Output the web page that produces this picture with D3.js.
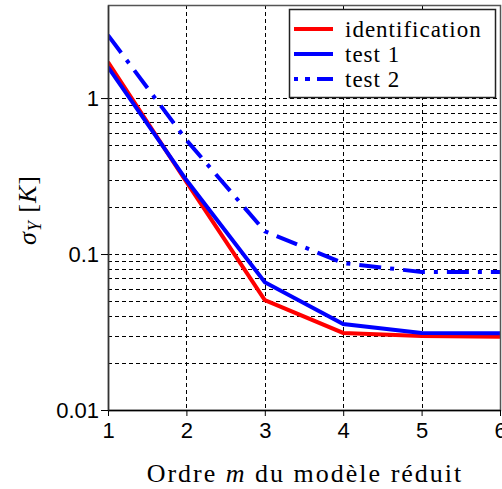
<!DOCTYPE html>
<html>
<head>
<meta charset="utf-8">
<script src="https://cdn.jsdelivr.net/npm/d3@7"></script>
<style>
  body { margin: 0; background: #fff; }
  text { fill: #000; }
  .serif { font-family: "Liberation Serif", "Times New Roman", serif; }
  .sans { font-family: "Liberation Sans", Arial, sans-serif; }
</style>
</head>
<body>
<svg id="vis"></svg>
<script>
const svg = d3.select("#vis").attr("width", 502).attr("height", 489);

const orders = [1, 2, 3, 4, 5, 6];
const identification = [1.70, 0.29, 0.0507, 0.0312, 0.0298, 0.0295];
const test1 = [1.58, 0.298, 0.066, 0.0356, 0.0312, 0.031];
const test2 = [2.53, 0.538, 0.14, 0.0875, 0.0767, 0.0767];
const yTicks = [0.01, 0.1, 1];
const yTickLabels = ["0.01", "0.1", "1"];
const yMinorGrid = [0.02, 0.03, 0.04, 0.05, 0.06, 0.07, 0.08, 0.09,
                    0.2, 0.3, 0.4, 0.5, 0.6, 0.7, 0.8, 0.9];

const LEFT = 108, RIGHT = 500, TOP = 5, BOTTOM = 410;

let xscale = d3.scaleLinear().domain([1, 6]).range([LEFT, RIGHT]);
let yscale = d3.scaleLog().domain([0.01, 3.95]).range([BOTTOM, TOP]);

const series = [
    {name: "identification", values: identification, color: "#ff0000", dash: null},
    {name: "test 1", values: test1, color: "#0000ff", dash: null},
    {name: "test 2", values: test2, color: "#0000ff", dash: "22,9,4,9"}
];

function main() {
    drawGrid();
    drawSeries();
    drawAxes();
    drawLegend();
    drawLabels();
}

function drawGrid() {
    const grid = svg.append("g").attr("stroke", "#000").attr("stroke-width", 1)
        .attr("stroke-dasharray", "4,3");
    grid.selectAll(".vgrid").data(orders.slice(1, -1)).join("line")
        .attr("class", "vgrid")
        .attr("x1", d => Math.round(xscale(d)) + 0.5)
        .attr("x2", d => Math.round(xscale(d)) + 0.5)
        .attr("y1", TOP)
        .attr("y2", BOTTOM);
    grid.selectAll(".hgrid").data(yMinorGrid.concat([0.1, 1])).join("line")
        .attr("class", "hgrid")
        .attr("x1", LEFT)
        .attr("x2", RIGHT)
        .attr("y1", d => Math.round(yscale(d)) + 0.5)
        .attr("y2", d => Math.round(yscale(d)) + 0.5);
}

function drawSeries() {
    const line = d3.line()
        .x((d, i) => xscale(orders[i]))
        .y(d => yscale(d));
    svg.append("defs").append("clipPath").attr("id", "clip")
        .append("rect").attr("x", LEFT).attr("y", TOP)
        .attr("width", RIGHT - LEFT).attr("height", BOTTOM - TOP);
    svg.append("g").attr("clip-path", "url(#clip)")
        .selectAll(".series").data(series).join("path")
        .attr("class", "series")
        .attr("fill", "none")
        .attr("stroke", d => d.color)
        .attr("stroke-width", 4)
        .attr("stroke-dasharray", d => d.dash)
        .attr("d", d => line(d.values));
}

function drawAxes() {
    // frame
    svg.append("rect")
        .attr("x", LEFT + 0.5).attr("y", TOP + 0.5)
        .attr("width", RIGHT - LEFT).attr("height", BOTTOM - TOP)
        .attr("fill", "none").attr("stroke", "#555").attr("stroke-width", 1.5);

    const xAxis = svg.append("g").attr("transform", `translate(0,${BOTTOM})`)
        .call(d3.axisBottom(xscale).tickValues(orders).tickFormat(d3.format("d"))
            .tickSizeOuter(0).tickSizeInner(6).tickPadding(6));
    xAxis.attr("font-family", null).attr("font-size", null);
    xAxis.select(".domain").attr("stroke", "#000").attr("stroke-width", 1.5);
    xAxis.selectAll("text").attr("class", "sans").attr("font-size", 22);

    const yAxis = svg.append("g").attr("transform", `translate(${LEFT},0)`)
        .call(d3.axisLeft(yscale).tickValues(yTicks)
            .tickFormat((d, i) => yTickLabels[i])
            .tickSizeOuter(0).tickSizeInner(7).tickPadding(2));
    yAxis.attr("font-family", null).attr("font-size", null);
    yAxis.select(".domain").attr("stroke", "#333").attr("stroke-width", 1.5);
    yAxis.selectAll("text").attr("class", "sans").attr("font-size", 22);
}

function drawLegend() {
    const lg = svg.append("g");
    lg.append("rect")
        .attr("x", 289.5).attr("y", 9.5)
        .attr("width", 206).attr("height", 88)
        .attr("fill", "#fff").attr("stroke", "#222").attr("stroke-width", 1.5);
    const rows = lg.selectAll(".entry").data(series).join("g")
        .attr("class", "entry")
        .attr("transform", (d, i) => `translate(294,${29 + i * 25})`);
    rows.append("line")
        .attr("x1", 0).attr("x2", 39)
        .attr("stroke", d => d.color)
        .attr("stroke-width", 4)
        .attr("stroke-dasharray", d => d.dash ? "4,7,5,7,16" : null);
    rows.append("text")
        .attr("class", "serif")
        .attr("x", 51).attr("y", 8)
        .attr("font-size", 23)
        .attr("letter-spacing", 1)
        .text(d => d.name);
}

function drawLabels() {
    svg.append("text")
        .attr("class", "serif")
        .attr("x", 305).attr("y", 482)
        .attr("text-anchor", "middle")
        .attr("font-size", 26)
        .attr("letter-spacing", 2)
        .html('Ordre <tspan font-style="italic">m</tspan> du modèle réduit');
    svg.append("text")
        .attr("class", "serif")
        .attr("transform", "translate(36,210) rotate(-90)")
        .attr("text-anchor", "middle")
        .attr("font-size", 26)
        .attr("letter-spacing", 1)
        .html('<tspan font-style="italic">σ</tspan><tspan font-style="italic" font-size="18" dy="5">Y</tspan><tspan dy="-5"> [</tspan><tspan font-style="italic">K</tspan>]');
}

main();
</script>
</body>
</html>
